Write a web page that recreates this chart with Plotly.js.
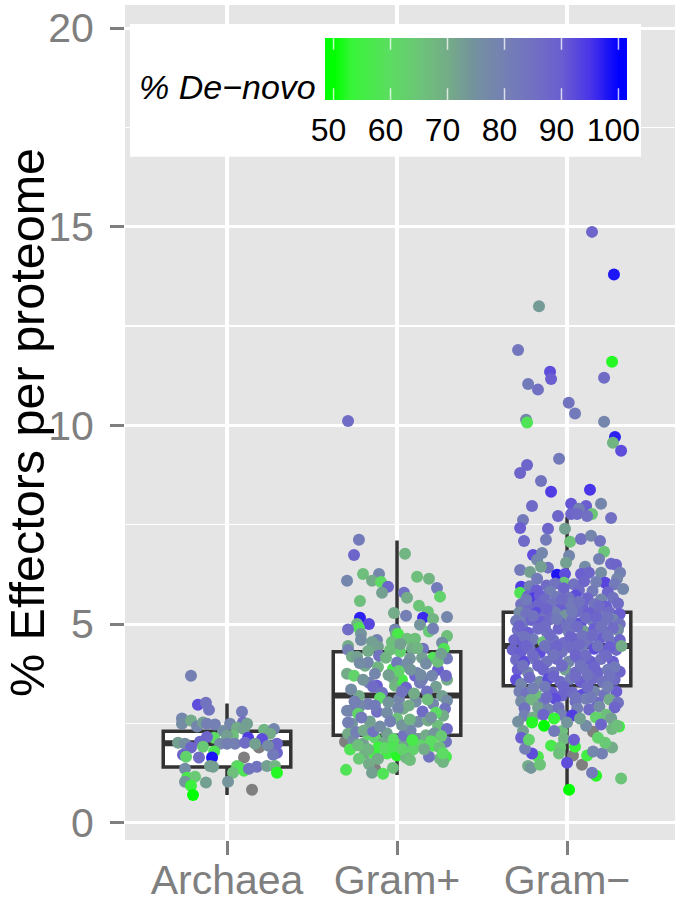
<!DOCTYPE html>
<html><head><meta charset="utf-8">
<script src="https://cdn.plot.ly/plotly-3.0.1.min.js"></script>
<style>html,body{margin:0;padding:0;background:#fff}#c{width:675px;height:902px}</style>
</head><body><div id="c"></div>
<script>
const groupPositions=[1,2,3];
const groupLabels=['Archaea','Gram+','Gram\u2212'];
const boxLow=[0.7,1.2,0.8];
const boxQ1=[1.4,2.2,3.45];
const boxMedian=[2.0,3.2,4.45];
const boxQ3=[2.3,4.3,5.3];
const boxHigh=[3.0,7.1,7.7];
const legendTicks=[50,60,70,80,90,100];
const legendStops=[48.5,50,55,60,65,70,75,80,85,90,95,100,101.5];

// [jitter offset, % effectors, % de-novo]
const archaeaPoints=[[-.212,3.7,80],[-.171,2.97,92],[-.124,3.02,84],[-.106,2.84,84],[.088,2.79,82],[-.265,2.62,78],[-.265,2.49,76],[-.212,2.57,70],[-.176,2.42,78],[-.141,2.52,72],[-.118,2.49,80],[-.071,2.47,80],[.018,2.49,78],[.094,2.52,85],[.118,2.49,72],[.059,2.39,70],[.1,2.36,72],[.218,2.34,68],[.276,2.36,78],[-.024,2.31,76],[.253,2.24,70],[.035,2.19,66],[0,2.19,72],[-.076,2.14,60],[-.118,2.16,88],[.124,2.14,94],[.206,2.11,92],[-.159,2.04,88],[-.288,2.01,72],[-.247,1.99,75],[-.041,1.99,76],[0,1.99,80],[.047,1.99,80],[.106,2.01,86],[.294,1.99,88],[.241,1.94,76],[.165,1.99,72],[-.141,1.91,64],[-.212,1.89,88],[-.076,1.79,58],[.294,1.76,88],[-.259,1.71,88],[-.241,1.66,62],[-.165,1.64,86],[-.088,1.64,98],[.271,1.71,82],[-.1,1.43,72],[-.082,1.41,72],[-.247,1.36,76],[.059,1.43,62],[.076,1.38,58],[.035,1.26,66],[.1,1.31,58],[.129,1.36,84],[.176,1.41,84],[.235,1.43,72],[.282,1.43,68],[.294,1.26,52],[-.235,1.13,56],[-.188,1.16,64],[-.247,1.03,74],[-.124,1.01,72],[.006,1.03,74],[-.212,.93,54],[-.2,.7,50]];
const archaeaGrey=[[.188,1.89],[.1,1.64],[.147,.83]];

const gramPosPoints=[[-.288,10.11,86],[-.224,7.12,82],[-.253,6.74,88],[.047,6.77,68],[-.2,6.26,66],[-.106,6.26,78],[-.294,6.09,78],[-.147,6.09,70],[-.094,6.06,60],[-.053,5.94,88],[.118,6.19,66],[.188,6.14,68],[.235,5.91,82],[.253,5.69,62],[-.088,5.79,72],[.041,5.79,85],[.059,5.66,70],[-.218,5.58,66],[.129,5.46,65],[-.018,5.28,70],[.053,5.21,80],[.182,5.31,65],[.153,5.16,96],[-.218,5.16,97],[-.165,5,93],[.212,5.13,68],[.294,5.18,78],[.135,4.98,74],[-.235,5,68],[-.224,4.9,58],[-.288,4.86,86],[.188,4.81,64],[.212,4.88,80],[-.012,4.86,78],[-.006,4.75,70],[.006,4.75,56],[-.212,4.75,74],[-.212,4.6,76],[.294,4.7,66],[-.118,4.6,80],[-.147,4.55,72],[.059,4.63,66],[.106,4.63,66],[.265,4.53,76],[-.288,4.45,70],[-.288,4.35,80],[-.112,4.43,72],[.276,4.38,58],[.153,4.38,84],[.018,4.3,62],[-.041,4.35,66],[.088,4.38,70],[.212,4.15,58],[-.024,3.87,56],[.047,3.95,72],[-.188,3.95,70],[-.171,4.03,78],[-.294,3.75,70],[-.253,3.7,62],[-.265,4.18,70],[-.235,4.18,72],[-.112,3.92,68],[0,4.03,82],[.076,4.13,74],[.147,4.15,72],[.294,4.13,82],[-.106,4.2,84],[.059,4,76],[.118,3.77,80],[-.065,4.15,68],[.241,3.85,90],[.106,3.7,88],[.135,3.52,82],[.147,3.6,80],[.206,3.7,78],[.294,3.6,70],[.288,3.7,86],[-.165,3.52,80],[-.118,3.45,90],[-.012,3.45,68],[.029,3.6,56],[-.024,3.65,70],[.053,3.4,88],[.229,3.42,72],[.176,3.3,84],[-.141,3.42,86],[-.088,3.27,84],[-.224,3.19,70],[-.1,3.14,60],[.012,3.12,78],[.265,3.19,72],[.294,3.07,76],[-.171,2.99,80],[-.218,2.94,78],[.212,2.99,78],[.282,2.87,84],[-.276,2.82,82],[-.294,2.82,78],[-.229,2.74,62],[-.118,2.79,85],[-.059,2.77,76],[.036,2.87,70],[.006,2.89,78],[.271,2.69,70],[.229,2.77,60],[0,2.62,66],[.124,2.54,76],[.182,2.57,70],[.241,2.44,66],[.294,2.36,86],[-.265,2.49,74],[-.288,2.52,80],[-.288,2.24,70],[-.259,2.06,76],[-.2,1.99,72],[-.129,2.14,62],[-.082,2.01,70],[.065,2.01,72],[.159,2.06,78],[.288,2.04,84],[.212,1.94,56],[.094,1.84,62],[.018,1.76,70],[-.188,1.74,70],[-.135,1.74,56],[-.059,1.74,55],[0,1.69,52],[.053,1.64,68],[.076,1.58,66],[.253,1.61,68],[.288,1.66,56],[.271,1.53,68],[.188,1.66,84],[-.276,1.84,58],[-.224,1.61,64],[-.165,1.48,70],[-.112,1.61,70],[-.024,1.38,66],[-.147,1.26,72],[-.082,1.23,58],[-.3,1.33,58],[.023,2.05,72],[-.24,2.28,80],[-.17,2.22,62],[-.195,2.32,70],[-.14,2.3,84],[-.06,2.25,72],[-.02,2.1,60],[.04,2.2,84],[.08,2.32,78],[.12,2.1,74],[.17,2.2,70],[.22,2.25,74],[.26,2.18,64],[.2,2.05,60],[.14,1.95,62],[.09,2.08,56],[-.11,1.9,54],[-.07,1.88,60],[-.02,1.92,58],[.03,1.85,62],[-.17,1.85,68],[-.23,1.95,66],[.16,1.85,70],[.25,1.9,66],[.27,1.75,60],[-.1,2.42,76],[-.16,2.55,72],[.03,2.45,74],[.075,2.6,68],[-.04,2.55,80],[-.21,2.65,82],[.15,2.8,86],[.2,2.65,74],[.11,3.05,76],[.07,2.95,70],[.18,3.1,66],[-.05,3.03,74],[-.13,2.95,82],[-.25,3.05,80],[-.27,3.35,76],[.03,3.3,84],[.1,3.25,70],[.14,3.72,76],[.08,3.85,74],[.01,3.82,62],[-.05,3.72,72],[-.13,3.75,78],[-.2,3.6,74],[.17,4,76],[.24,4.05,66],[.26,4.25,72],[.12,4.4,68],[-.03,4.55,66],[.02,4.5,72],[-.17,4.32,70],[-.22,4.02,76]];
const gramPosGrey=[[-.271,2.49],[-.306,2.04],[-.129,1.36]];

const gramNegPoints=[[.147,14.87,88],[.276,13.8,98],[-.165,13,73],[-.288,11.9,83],[.265,11.6,52],[-.1,11.35,92],[-.094,11.17,90],[.218,11.2,86],[-.229,11.04,82],[-.171,10.9,85],[.01,10.57,84],[.047,10.3,82],[-.241,10.14,78],[-.235,10.07,58],[.218,10.09,78],[.282,9.71,97],[.27,9.56,68],[.318,9.36,92],[-.047,9.16,82],[-.235,9,88],[-.276,8.8,88],[-.153,8.6,84],[-.094,8.33,94],[.135,8.38,95],[-.206,7.97,87],[.024,8.03,91],[.112,7.97,90],[.2,8.03,78],[.07,7.9,80],[-.259,7.62,82],[-.053,7.72,88],[.024,7.77,88],[.059,7.77,87],[.147,7.77,65],[.118,7.72,85],[.259,7.67,85],[-.276,7.42,90],[-.112,7.4,88],[-.012,7.4,72],[-.253,7.09,87],[-.124,7.12,82],[.018,7.07,65],[.082,7.14,85],[.141,7.22,78],[.194,7.09,84],[.218,6.82,65],[.188,6.64,80],[-.2,6.74,92],[-.147,6.79,78],[.012,6.72,78],[-.176,6.62,78],[-.006,6.54,72],[.259,6.52,87],[.288,6.49,88],[-.112,6.42,85],[-.153,6.44,72],[.106,6.44,76],[-.276,6.36,82],[-.218,6.31,72],[-.059,6.24,98],[-.012,6.26,92],[.082,6.26,90],[.129,6.29,88],[.2,6.29,76],[.312,6.29,80],[.294,6.14,78],[-.176,6.14,82],[-.27,5.94,94],[-.276,5.79,58],[-.018,6.04,64],[.224,6.04,93],[.171,6.06,80],
[-.22,5.95,80],[-.12,5.97,86],[-.07,6.02,84],[.04,6.0,84],[.1,6.08,88],[.28,6.0,82],[.33,5.88,78],[-.18,5.85,90],[-.1,5.82,80],[-.02,5.9,88],[.07,5.85,86],[.15,5.83,82],[.24,5.8,88],[.05,5.72,92],[-.23,5.7,88],[-.2,5.65,94],[-.16,5.72,90],[-.13,5.62,86],[-.06,5.68,82],[.01,5.66,84],[.12,5.65,88],[.2,5.62,78],[.27,5.66,84],[.3,5.52,86],[-.27,5.5,84],[-.22,5.42,86],[-.17,5.48,88],[-.09,5.5,84],[-.03,5.42,90],[.02,5.52,82],[.09,5.45,88],[.16,5.5,84],[.23,5.44,90],[-.28,5.3,76],[-.24,5.25,84],[-.18,5.28,92],[-.13,5.2,84],[-.07,5.3,80],[-.01,5.22,74],[.06,5.32,86],[.13,5.28,90],[.19,5.22,82],[.25,5.3,86],[.31,5.25,90],[-.3,5.08,82],[-.26,5.02,80],[-.21,5.1,88],[-.15,5.05,90],[-.1,5.12,86],[-.04,5.02,88],[.03,5.1,84],[.08,5.02,92],[.15,5.08,80],[.21,5.05,84],[.27,5.12,78],[.31,5.0,84],[-.29,4.85,84],[-.23,4.78,90],[-.17,4.88,86],[-.12,4.8,84],[-.05,4.88,88],[.01,4.8,78],[.1,4.82,72],[.16,4.88,90],[.22,4.8,86],[.3,4.85,76],[-.31,4.6,88],[-.26,4.55,90],[-.2,4.62,82],[-.14,4.55,66],[-.08,4.6,84],[-.02,4.52,86],[.05,4.62,90],[.12,4.55,84],[.19,4.62,90],[.26,4.55,82],[.31,4.6,88],[-.32,4.35,88],[-.27,4.3,90],[-.22,4.38,84],[-.16,4.28,92],[-.1,4.38,88],[-.03,4.3,84],[.03,4.4,86],[.09,4.32,80],[.16,4.38,92],[.22,4.3,88],[.29,4.35,86],[.32,4.45,70],[-.3,4.1,86],[-.25,4.05,92],[-.19,4.12,80],[-.12,4.05,84],[-.06,4.12,86],[.01,4.05,78],[.07,4.12,84],[.14,4.05,90],[.2,4.12,84],[.27,4.05,90],[-.29,3.85,90],[-.23,3.78,78],[-.14,3.85,88],[-.08,3.78,84],[-.01,3.85,72],[.05,3.78,86],[.11,3.85,84],[.18,3.78,88],[.24,3.85,82],[.31,3.8,88],[-.3,3.6,92],[-.27,3.5,78],[-.16,3.55,76],[-.11,3.62,92],[-.04,3.55,86],[.02,3.62,82],[.08,3.55,90],[.15,3.62,86],[.21,3.55,84],[.28,3.6,86],[-.28,3.3,80],[-.24,3.25,84],[-.18,3.2,66],[-.09,3.28,90],[-.03,3.2,88],[.03,3.28,86],[.09,3.22,92],[.16,3.3,78],[.22,3.22,84],[.29,3.3,90],[-.27,3.05,76],[-.21,3.1,68],[-.14,3.02,82],[-.07,3.12,92],[.05,3.05,86],[.11,3.12,80],[.18,3.02,86],[.25,3.1,70],[.3,3.02,84],[-.25,2.88,84],[-.17,2.9,72],[-.11,2.85,78],[-.05,2.9,84],[.06,2.88,80],[.13,2.85,86],[.19,2.92,76],[.28,2.9,88],
[-.25,2.7,80],[-.2,2.65,70],[-.14,2.72,88],[-.03,2.72,80],[.03,2.7,94],[.23,2.72,66],[.26,2.62,72],[.17,2.65,62],
[-.206,2.52,52],[-.135,2.44,50],[-.076,2.62,53],[.012,.83,50],[.318,1.11,65],[.171,1.18,52],[.147,1.26,82],[0,1.51,92],[.118,1.69,55],[.047,1.91,53],[-.094,1.94,56],[-.171,1.66,57],[-.206,1.74,92],[-.247,1.86,80],[-.229,1.43,70],[-.212,1.38,74],[-.159,1.46,65],[.265,1.89,70],[.206,1.74,80],[.153,1.79,78],[.182,2.14,62],[.224,2.01,64],[.306,2.42,54],[.265,2.36,68],[.294,2.44,66],[.2,2.47,88],[.112,2.44,76],[.076,2.62,72],[-.288,2.54,75],[-.259,2.31,72],[-.27,2.14,90],[-.224,2.09,62],[-.029,2.31,66],[-.018,2.11,68],[-.041,1.89,64],[-.047,1.74,66],[.041,2.09,90],[-.076,2.31,82],[0,2.52,74],
[-.24,5.62,82],[-.03,5.62,86],[.07,5.56,84],[.19,5.45,86],[-.12,5.38,88],[.03,5.32,82],[.11,5.16,86],[-.2,5.2,84],[-.06,5.12,82],[.17,5.18,88],[.24,5.15,84],[-.28,4.95,88],[-.13,4.95,86],[0,4.95,84],[.06,4.93,86],[.2,4.93,84],[.27,4.9,86],[-.25,4.68,84],[-.1,4.72,86],[.02,4.68,88],[.09,4.7,84],[.15,4.72,86],[.24,4.7,84],[-.24,4.45,88],[-.13,4.45,84],[-.06,4.45,88],[.07,4.48,86],[.18,4.45,84],[.25,4.42,90],[-.2,4.2,86],[-.08,4.22,84],[.05,4.2,88],[.11,4.2,86],[.23,4.2,86],[-.26,3.95,84],[-.17,3.95,88],[-.03,3.95,86],[.08,3.95,84],[.16,3.92,88],[.28,3.92,82],[-.22,3.65,86],[-.08,3.68,88],[.05,3.68,86],[.12,3.72,84],[.25,3.7,84],[-.13,3.42,82],[-.02,3.42,88],[.12,3.42,86],[.24,3.42,80],[-.2,3.38,80],[.05,3.15,84],[-.12,3.15,86],[.14,3.15,82]];
const gramNegGrey=[[.088,1.46],[.035,1.69],[.153,2.29]];

const naGrey='#7f7f7f';
const scatterColorscale=[[0,'#00ff00'],[0.06,'#37f537'],[0.2,'#5cdc62'],[0.3,'#6cc478'],[0.4,'#74ab88'],[0.5,'#7490a0'],[0.6,'#7480b4'],[0.7,'#7270c2'],[0.8,'#6a5ed0'],[0.9,'#4a34e8'],[1,'#0000ff']];

function pointTrace(points,center){
  return {type:'scatter',mode:'markers',hoverinfo:'skip',
    x:points.map(p=>center+p[0]),y:points.map(p=>p[1]),
    marker:{size:12,color:points.map(p=>p[2]),colorscale:scatterColorscale,cmin:50,cmax:100,showscale:false,line:{width:0}}};
}
function greyTrace(points,center){
  return {type:'scatter',mode:'markers',hoverinfo:'skip',
    x:points.map(p=>center+p[0]),y:points.map(p=>p[1]),
    marker:{size:12,color:naGrey,line:{width:0}}};
}
const medianX=[],medianY=[];
groupPositions.forEach((g,i)=>{medianX.push(g-0.375,g+0.375,null);medianY.push(boxMedian[i],boxMedian[i],null);});

const traces=[
 {type:'box',x:groupPositions,q1:boxQ1,median:boxMedian,q3:boxQ3,lowerfence:boxLow,upperfence:boxHigh,width:0.75,
  fillcolor:'#ffffff',line:{color:'#333333',width:3.5},whiskerwidth:0,boxpoints:false,hoverinfo:'skip'},
 {type:'scatter',mode:'lines',x:medianX,y:medianY,line:{color:'#333333',width:6},hoverinfo:'skip'},
 greyTrace(archaeaGrey,groupPositions[0]),
 pointTrace(archaeaPoints,groupPositions[0]),
 greyTrace(gramPosGrey,groupPositions[1]),
 pointTrace(gramPosPoints,groupPositions[1]),
 greyTrace(gramNegGrey,groupPositions[2]),
 pointTrace(gramNegPoints,groupPositions[2]),
 {type:'heatmap',xaxis:'x2',yaxis:'y2',x:legendStops,y:[0,1],z:[legendStops,legendStops],zsmooth:'best',
  colorscale:scatterColorscale,zmin:50,zmax:100,showscale:false,hoverinfo:'skip'}
];
const legendTickShapes=[];
legendTicks.forEach(v=>{
  [[0,0.19],[0.81,1]].forEach(seg=>legendTickShapes.push({type:'line',xref:'x2',yref:'y2',layer:'above',x0:v,x1:v,y0:seg[0],y1:seg[1],line:{color:'rgba(255,255,255,0.75)',width:1.5}}));
});
const layout={
 width:675,height:902,showlegend:false,paper_bgcolor:'#ffffff',plot_bgcolor:'#e5e5e5',
 margin:{l:125,r:0,t:5,b:62,pad:0},
 font:{family:'"Liberation Sans",Arial,sans-serif'},
 xaxis:{range:[0.4,3.635],tickvals:groupPositions,ticktext:groupLabels,zeroline:false,showgrid:true,gridcolor:'#ffffff',gridwidth:3.5,
   ticks:'outside',ticklen:14,tickwidth:3,tickcolor:'#7f7f7f',tickfont:{size:41,color:'#7f7f7f'},ticklabelstandoff:-10,showline:false},
 yaxis:{range:[-0.435,20.58],tickvals:[0,5,10,15,20],zeroline:false,showgrid:true,gridcolor:'#ffffff',gridwidth:3,
   minor:{dtick:2.5,tick0:0,showgrid:true,gridcolor:'#ffffff',gridwidth:1.5,ticks:''},
   ticks:'outside',ticklen:14,tickwidth:3,tickcolor:'#7f7f7f',tickfont:{size:41,color:'#7f7f7f'},ticklabelstandoff:8,showline:false,
   title:{text:'% Effectors per proteome',font:{size:48.5,color:'#000000'},standoff:4}},
 xaxis2:{domain:[200/550,502/550],anchor:'y2',range:[48.5,101.5],tickvals:legendTicks,ticks:'',
   showgrid:false,zeroline:false,showline:false,tickfont:{size:32,color:'#000000'},ticklabelshift:-5,ticklabelstandoff:8},
 yaxis2:{domain:[740/835,802/835],anchor:'x2',range:[0,1],visible:false,fixedrange:true},
 shapes:[{type:'rect',xref:'x',yref:'y',layer:'between',x0:0.429,x1:3.435,y0:16.76,y1:20.1,fillcolor:'#ffffff',line:{width:0}}].concat(legendTickShapes),
 annotations:[{xref:'paper',yref:'paper',x:193/550,y:753/835,xanchor:'right',yanchor:'middle',showarrow:false,
   text:'<i>% De\u2212novo</i>',font:{size:34,color:'#000000'}}]
};
Plotly.newPlot('c',traces,layout,{displayModeBar:false,staticPlot:true});
</script></body></html>
